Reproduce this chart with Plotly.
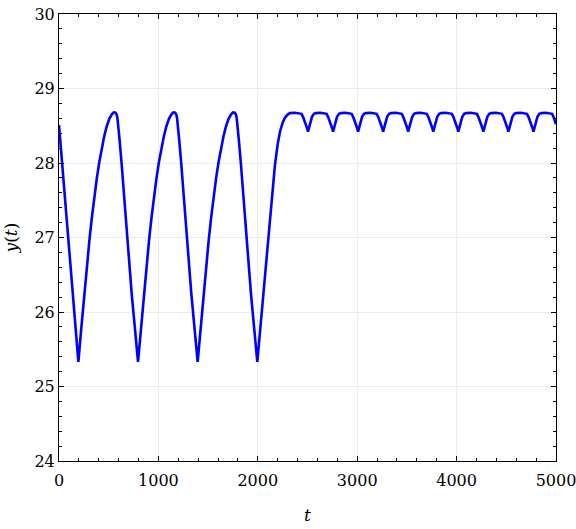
import plotly.graph_objects as go

# --- data ---
# large oscillation phase (t, y)
t_osc = [0, 195, 220, 245, 275, 305, 330, 355, 380, 405, 430, 455, 480, 505, 530, 550, 568, 580, 588, 597, 610, 630, 674, 731, 795,
         820, 845, 875, 905, 930, 955, 980, 1005, 1030, 1055, 1080, 1105, 1130, 1150, 1168, 1180, 1188, 1197, 1210, 1230, 1274, 1331, 1395,
         1420, 1445, 1475, 1505, 1530, 1555, 1580, 1605, 1630, 1655, 1680, 1705, 1730, 1750, 1768, 1780, 1788, 1797, 1810, 1830, 1874, 1931, 1995,
         2020, 2055, 2085, 2116, 2145, 2173, 2200, 2223, 2250, 2274, 2300, 2324, 2370]
y_osc = [28.51, 25.33, 25.72, 26.10, 26.54, 26.95, 27.26, 27.54, 27.79, 28.01, 28.20, 28.36, 28.49, 28.59, 28.65, 28.68, 28.675, 28.65, 28.60, 28.49, 28.30, 27.99, 27.22, 26.25, 25.33,
         25.72, 26.10, 26.54, 26.95, 27.26, 27.54, 27.79, 28.01, 28.20, 28.36, 28.49, 28.59, 28.65, 28.68, 28.675, 28.65, 28.60, 28.49, 28.30, 27.99, 27.22, 26.25, 25.33,
         25.72, 26.10, 26.54, 26.95, 27.26, 27.54, 27.79, 28.01, 28.20, 28.36, 28.49, 28.59, 28.65, 28.68, 28.675, 28.65, 28.60, 28.49, 28.30, 27.99, 27.22, 26.25, 25.33,
         25.71, 26.24, 26.69, 27.15, 27.58, 27.98, 28.25, 28.42, 28.54, 28.61, 28.65, 28.67, 28.675]

# small ripple phase (t, y)
t_rip = [2420, 2440, 2455, 2470, 2485, 2495, 2505, 2515, 2530, 2545, 2565, 2585, 2630,
         2672, 2692, 2707, 2722, 2737, 2747, 2757, 2767, 2782, 2797, 2817, 2837, 2882,
         2924, 2944, 2959, 2974, 2989, 2999, 3009, 3019, 3034, 3049, 3069, 3089, 3134,
         3176, 3196, 3211, 3226, 3241, 3251, 3261, 3271, 3286, 3301, 3321, 3341, 3386,
         3428, 3448, 3463, 3478, 3493, 3503, 3513, 3523, 3538, 3553, 3573, 3593, 3638,
         3680, 3700, 3715, 3730, 3745, 3755, 3765, 3775, 3790, 3805, 3825, 3845, 3890,
         3932, 3952, 3967, 3982, 3997, 4007, 4017, 4027, 4042, 4057, 4077, 4097, 4142,
         4184, 4204, 4219, 4234, 4249, 4259, 4269, 4279, 4294, 4309, 4329, 4349, 4394,
         4436, 4456, 4471, 4486, 4501, 4511, 4521, 4531, 4546, 4561, 4581, 4601, 4646,
         4688, 4708, 4723, 4738, 4753, 4763, 4773, 4783, 4798, 4813, 4833, 4853, 4898,
         4940, 4960, 4975, 4990, 5000]
y_rip = [28.67, 28.66, 28.62, 28.57, 28.51, 28.47, 28.42, 28.48, 28.56, 28.62, 28.66, 28.67, 28.675,
         28.67, 28.66, 28.62, 28.57, 28.51, 28.47, 28.42, 28.48, 28.56, 28.62, 28.66, 28.67, 28.675,
         28.67, 28.66, 28.62, 28.57, 28.51, 28.47, 28.42, 28.48, 28.56, 28.62, 28.66, 28.67, 28.675,
         28.67, 28.66, 28.62, 28.57, 28.51, 28.47, 28.42, 28.48, 28.56, 28.62, 28.66, 28.67, 28.675,
         28.67, 28.66, 28.62, 28.57, 28.51, 28.47, 28.42, 28.48, 28.56, 28.62, 28.66, 28.67, 28.675,
         28.67, 28.66, 28.62, 28.57, 28.51, 28.47, 28.42, 28.48, 28.56, 28.62, 28.66, 28.67, 28.675,
         28.67, 28.66, 28.62, 28.57, 28.51, 28.47, 28.42, 28.48, 28.56, 28.62, 28.66, 28.67, 28.675,
         28.67, 28.66, 28.62, 28.57, 28.51, 28.47, 28.42, 28.48, 28.56, 28.62, 28.66, 28.67, 28.675,
         28.67, 28.66, 28.62, 28.57, 28.51, 28.47, 28.42, 28.48, 28.56, 28.62, 28.66, 28.67, 28.675,
         28.67, 28.66, 28.62, 28.57, 28.51, 28.47, 28.42, 28.48, 28.56, 28.62, 28.66, 28.67, 28.675,
         28.67, 28.66, 28.62, 28.57, 28.52]

x_ticks = [0, 1000, 2000, 3000, 4000, 5000]
y_ticks = [24, 25, 26, 27, 28, 29, 30]

t_all = t_osc + t_rip
y_all = y_osc + y_rip

FONT = "DejaVu Serif"

fig = go.Figure()
fig.add_trace(go.Scatter(x=t_all, y=y_all, mode="lines",
                         line=dict(color="#0000ff", width=2.6), showlegend=False))

axis_common = dict(
    showline=True, linecolor="black", linewidth=1, mirror="allticks",
    ticks="inside", ticklen=5, tickwidth=1, tickcolor="black",
    showgrid=True, gridcolor="#ececec", gridwidth=1, zeroline=False,
    automargin=False, ticklabeloverflow="allow",
    tickfont=dict(family=FONT, size=16, color="black"),
)

fig.update_xaxes(range=[0, 5000], tickvals=x_ticks, ticklabelstandoff=5,
                 minor=dict(dtick=200, ticks="inside", ticklen=3, tickcolor="black", showgrid=False),
                 title=dict(text="<i>t</i>", font=dict(family=FONT, size=17, color="black"), standoff=19),
                 **axis_common)
fig.update_yaxes(range=[24, 30], tickvals=y_ticks,
                 minor=dict(dtick=0.2, ticks="inside", ticklen=3, tickcolor="black", showgrid=False),
                 title=dict(text="<i>y</i>(<i>t</i>)", font=dict(family=FONT, size=17, color="black"), standoff=12),
                 **axis_common)

fig.update_layout(width=576, height=529, margin=dict(l=59, r=20, t=14, b=68),
                  plot_bgcolor="white", paper_bgcolor="white",
                  font=dict(family=FONT))

fig.write_html("out.html")
